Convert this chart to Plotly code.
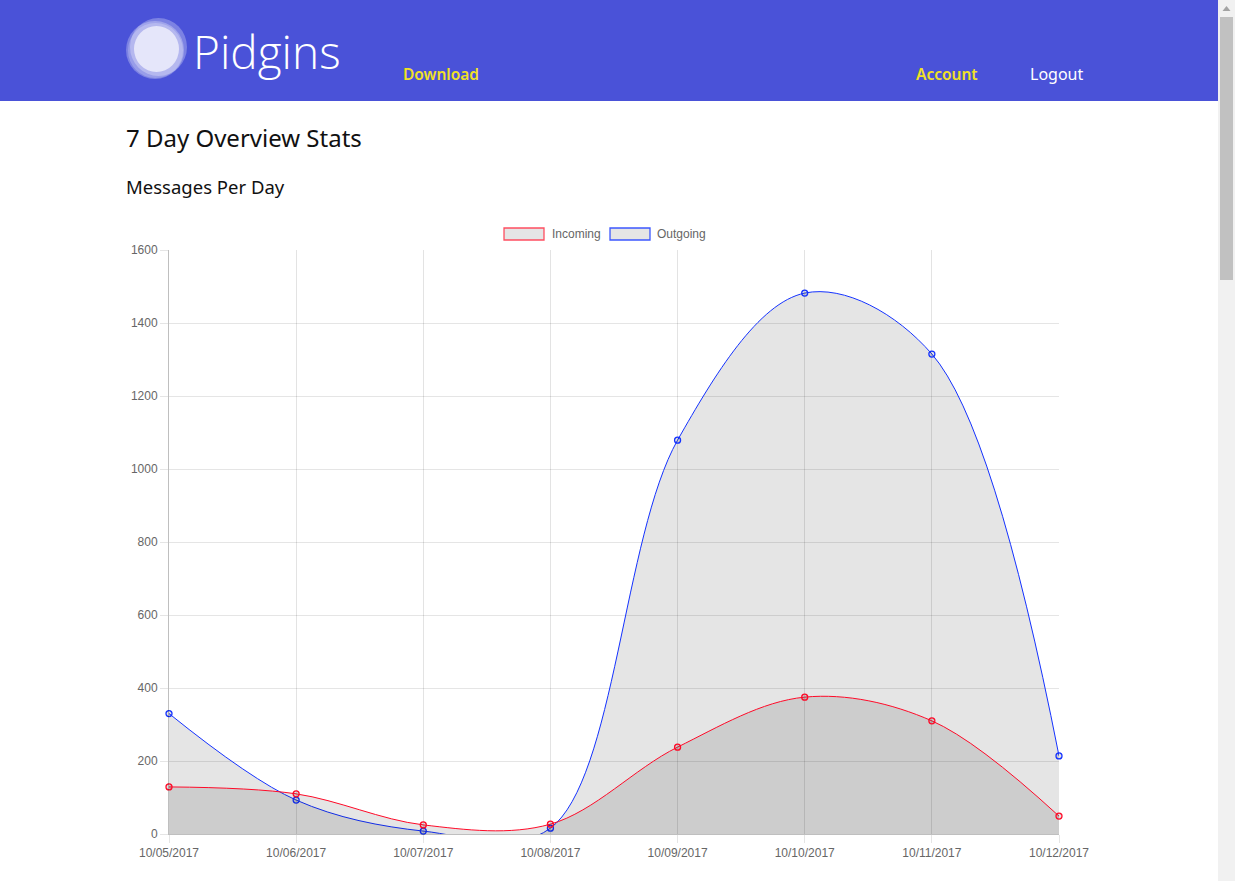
import plotly.graph_objects as go

# ---- data ----
dates = ["10/05/2017", "10/06/2017", "10/07/2017", "10/08/2017",
         "10/09/2017", "10/10/2017", "10/11/2017", "10/12/2017"]
incoming = [129, 110, 25, 27, 238, 375, 310, 49]
outgoing = [330, 93, 8, 16, 1079, 1482, 1315, 214]
y_ticks = [0, 200, 400, 600, 800, 1000, 1200, 1400, 1600]

W_FIG, H_FIG = 1235, 881
L, R, T, B = 169, 1059, 250, 834
PW, PH = R - L, B - T


def px(x):
    return (x - L) / PW


def py(y):
    return (B - y) / PH


fig = go.Figure()

fig.add_trace(go.Scatter(
    x=dates, y=outgoing, name="Outgoing", mode="lines+markers",
    line=dict(color="rgb(20,50,255)", width=1, shape="spline", smoothing=1.0),
    fill="tozeroy", fillcolor="rgba(0,0,0,0.1)",
    marker=dict(size=6, color="rgba(0,0,0,0.1)",
                line=dict(color="rgb(20,50,255)", width=1.3)),
    showlegend=False, cliponaxis=False))
fig.add_trace(go.Scatter(
    x=dates, y=incoming, name="Incoming", mode="lines+markers",
    line=dict(color="rgb(255,10,40)", width=1, shape="spline", smoothing=1.0),
    fill="tozeroy", fillcolor="rgba(0,0,0,0.1)",
    marker=dict(size=6, color="rgba(0,0,0,0.1)",
                line=dict(color="rgb(255,10,40)", width=1.3)),
    showlegend=False, cliponaxis=False))

shapes = []
annotations = []

# header bar
shapes.append(dict(type="rect", xref="paper", yref="paper",
                   x0=px(0), x1=px(1218), y0=py(0), y1=py(101),
                   fillcolor="#4a52d8", line=dict(width=0), layer="below"))
# scrollbar
shapes.append(dict(type="rect", xref="paper", yref="paper",
                   x0=px(1218), x1=px(1235), y0=py(0), y1=py(881),
                   fillcolor="#f1f1f1", line=dict(width=0), layer="below"))
shapes.append(dict(type="rect", xref="paper", yref="paper",
                   x0=px(1220), x1=px(1233), y0=py(17), y1=py(280),
                   fillcolor="#c1c1c1", line=dict(width=0), layer="below"))
shapes.append(dict(type="path", xref="paper", yref="paper",
                   path="M %f %f L %f %f L %f %f Z" % (
                       px(1222.5), py(11), px(1230.5), py(11), px(1226.5), py(6)),
                   fillcolor="#a3a3a3", line=dict(width=0), layer="below"))
# logo circles
for (x0, y0, x1, y1, col) in [
        (126, 21, 184, 79, "rgba(255,255,255,0.28)"),
        (130, 18, 187, 76, "rgba(255,255,255,0.28)"),
        (128, 23, 183, 78, "rgba(255,255,255,0.22)"),
        (134, 26, 179, 72, "rgba(232,232,250,0.95)")]:
    shapes.append(dict(type="circle", xref="paper", yref="paper",
                       x0=px(x0), x1=px(x1), y0=py(y0), y1=py(y1),
                       fillcolor=col, line=dict(width=0), layer="below"))

annotations.append(dict(text="Pidgins", xref="paper", yref="paper",
                        x=px(191), y=py(51), xanchor="left", yanchor="middle",
                        showarrow=False,
                        font=dict(family="Open Sans", size=46, color="white", weight=300)))
annotations.append(dict(text="Download", xref="paper", yref="paper",
                        x=px(401), y=py(74), xanchor="left", yanchor="middle",
                        showarrow=False,
                        font=dict(family="Noto Sans", size=15.5, color="#f0e126", weight=600)))
annotations.append(dict(text="Account", xref="paper", yref="paper",
                        x=px(914), y=py(74), xanchor="left", yanchor="middle",
                        showarrow=False,
                        font=dict(family="Noto Sans", size=15.5, color="#f0e126", weight=600)))
annotations.append(dict(text="Logout", xref="paper", yref="paper",
                        x=px(1028), y=py(74), xanchor="left", yanchor="middle",
                        showarrow=False,
                        font=dict(family="Noto Sans", size=16, color="white", weight=400)))
annotations.append(dict(text="7 Day Overview Stats", xref="paper", yref="paper",
                        x=px(124), y=py(138), xanchor="left", yanchor="middle",
                        showarrow=False,
                        font=dict(family="Noto Sans", size=24, color="#111", weight=400)))
annotations.append(dict(text="Messages Per Day", xref="paper", yref="paper",
                        x=px(124), y=py(187), xanchor="left", yanchor="middle",
                        showarrow=False,
                        font=dict(family="Noto Sans", size=18.5, color="#111", weight=400)))

# legend (Chart.js style)
for (bx, tx, name, col) in [(504, 550, "Incoming", "rgba(255,60,80,0.9)"),
                            (610, 655, "Outgoing", "rgba(40,70,255,0.9)")]:
    shapes.append(dict(type="rect", xref="paper", yref="paper",
                       x0=px(bx), x1=px(bx + 40), y0=py(228), y1=py(240),
                       fillcolor="rgba(0,0,0,0.1)", line=dict(color=col, width=1.3)))
    annotations.append(dict(text=name, xref="paper", yref="paper",
                            x=px(tx), y=py(234), xanchor="left", yanchor="middle",
                            showarrow=False,
                            font=dict(family="Liberation Sans", size=12, color="#666")))

fig.update_layout(
    width=W_FIG, height=H_FIG,
    margin=dict(l=L, r=W_FIG - R, t=T, b=H_FIG - B, pad=0),
    paper_bgcolor="white", plot_bgcolor="white",
    shapes=shapes, annotations=annotations,
    showlegend=False,
    font=dict(family="Liberation Sans", size=12, color="#666"),
)
fig.update_xaxes(type="category", range=[0, len(dates) - 1],
                 showgrid=True, gridcolor="rgba(0,0,0,0.11)", gridwidth=1,
                 ticks="outside", ticklen=8, tickcolor="rgba(0,0,0,0.1)",
                 showline=True, linecolor="rgba(0,0,0,0.25)", linewidth=1,
                 tickfont=dict(family="Liberation Sans", size=12, color="#666"),
                 zeroline=False, fixedrange=True)
fig.update_yaxes(range=[0, 1600], tickvals=y_ticks,
                 showgrid=True, gridcolor="rgba(0,0,0,0.1)", gridwidth=1,
                 ticks="outside", ticklen=8, tickcolor="rgba(0,0,0,0.1)",
                 showline=True, linecolor="rgba(0,0,0,0.25)", linewidth=1,
                 tickfont=dict(family="Liberation Sans", size=12, color="#666"),
                 zeroline=False, fixedrange=True)

fig.write_html("out.html",
               config={"displayModeBar": False},
               post_script="document.body.style.margin='0';document.body.style.overflow='hidden';")
